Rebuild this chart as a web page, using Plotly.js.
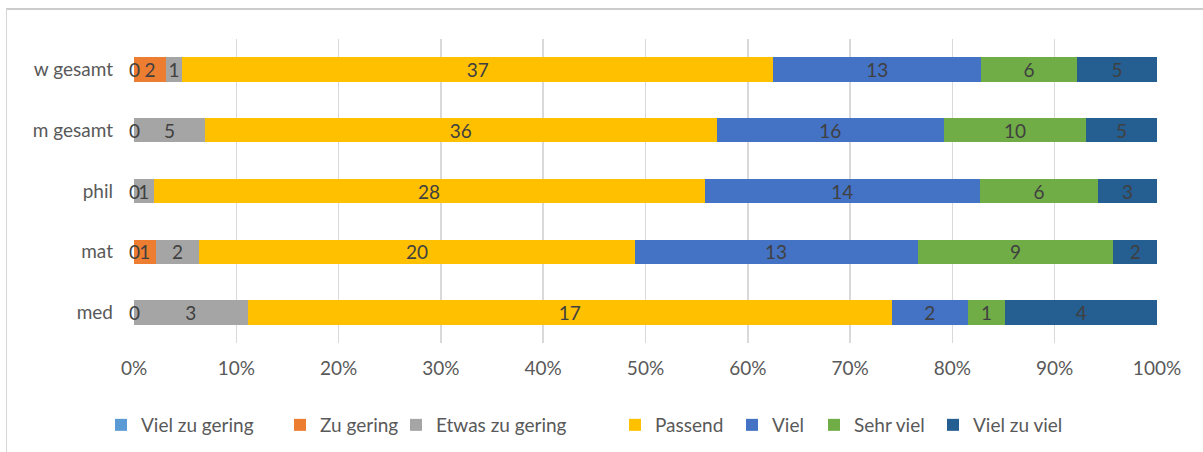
<!DOCTYPE html>
<html>
<head>
<meta charset="utf-8">
<script src="https://cdn.plot.ly/plotly-3.0.1.min.js"></script>
<style>
  html, body { margin: 0; padding: 0; background: #fff; overflow: hidden; }
  #chart { width: 1203px; height: 452px; position: absolute; left: 0; top: 0; }
  #frame { position: absolute; left: 6px; top: 8px; width: 1300px; height: 600px;
           border-left: 1.5px solid #d6d6d6; border-top: 2px solid #cccccc; pointer-events: none; }
</style>
</head>
<body>
<div id="chart"></div>
<div id="frame"></div>
<script>
// ---- data ----
const categories = ['med', 'mat', 'phil', 'm gesamt', 'w gesamt'];
const seriesNames = ['Viel zu gering', 'Zu gering', 'Etwas zu gering', 'Passend', 'Viel', 'Sehr viel', 'Viel zu viel'];
const vielZuGering  = [0, 0, 0, 0, 0];
const zuGering      = [null, 1, null, null, 2];
const etwasZuGering = [3, 2, 1, 5, 1];
const passend       = [17, 20, 28, 36, 37];
const viel          = [2, 13, 14, 16, 13];
const sehrViel      = [1, 9, 6, 10, 6];
const vielZuViel    = [4, 2, 3, 5, 5];
const xTickValues   = [0, 10, 20, 30, 40, 50, 60, 70, 80, 90, 100];

// ---- styles ----
const colors = ['#5B9BD5', '#ED7D31', '#A5A5A5', '#FFC000', '#4472C4', '#70AD47', '#255E91'];
const legendWidths = [134, 71, 174, 72, 37, 74, 100];
const FONT = 'Lato, "Open Sans", sans-serif';
const labelColor = '#404040';
const axisColor = '#595959';
const fs = 19;

const allSeries = [vielZuGering, zuGering, etwasZuGering, passend, viel, sehrViel, vielZuViel];

const traces = allSeries.map((vals, i) => ({
  type: 'bar',
  orientation: 'h',
  name: seriesNames[i],
  y: categories,
  x: vals,
  marker: { color: colors[i], line: { width: 0 } },
  text: vals.map(v => (v === null || v === 0) ? '' : String(v)),
  textposition: 'inside',
  insidetextanchor: 'middle',
  textangle: 0,
  constraintext: 'none',
  textfont: { family: FONT, size: fs, color: labelColor },
  hoverinfo: 'skip',
  legendwidth: legendWidths[i]
}));

// zero-valued segments get a "0" label at their (zero-width) position
const annotations = [];
categories.forEach((cat, ci) => {
  const total = allSeries.reduce((s, arr) => s + (arr[ci] || 0), 0);
  let cum = 0;
  allSeries.forEach((arr) => {
    const v = arr[ci];
    if (v === 0) {
      annotations.push({
        x: cum / total * 100, y: cat, xref: 'x', yref: 'y',
        text: '0', showarrow: false,
        font: { family: FONT, size: fs, color: labelColor },
        xanchor: 'center', yanchor: 'middle'
      });
    }
    cum += (v || 0);
  });
});

const layout = {
  width: 1203, height: 452,
  margin: { l: 134, r: 46, t: 39, b: 109, pad: 0 },
  paper_bgcolor: '#ffffff', plot_bgcolor: '#ffffff',
  barmode: 'stack', barnorm: 'percent',
  bargap: 0.6,
  font: { family: FONT, size: fs, color: axisColor },
  xaxis: {
    range: [0, 100], tickvals: xTickValues, ticktext: xTickValues.map(v => v + '%'),
    showgrid: true, gridcolor: '#d9d9d9', gridwidth: 1.5,
    zeroline: false, showline: false, ticks: '',
    tickfont: { family: FONT, size: fs, color: axisColor },
    ticklabelstandoff: 12, fixedrange: true
  },
  yaxis: {
    type: 'category', categoryorder: 'array', categoryarray: categories,
    showgrid: false, zeroline: false, showline: false, ticks: '',
    tickfont: { family: FONT, size: fs, color: axisColor },
    ticklabelstandoff: 20, fixedrange: true
  },
  showlegend: true,
  legend: {
    orientation: 'h', xref: 'container', yref: 'container',
    x: 101 / 1203, xanchor: 'left', y: 27 / 452, yanchor: 'middle',
    font: { family: FONT, size: fs, color: axisColor },
    traceorder: 'normal', itemclick: false, itemdoubleclick: false
  },
  annotations: annotations
};

Plotly.newPlot('chart', traces, layout, { displayModeBar: false, staticPlot: true });
</script>
</body>
</html>
